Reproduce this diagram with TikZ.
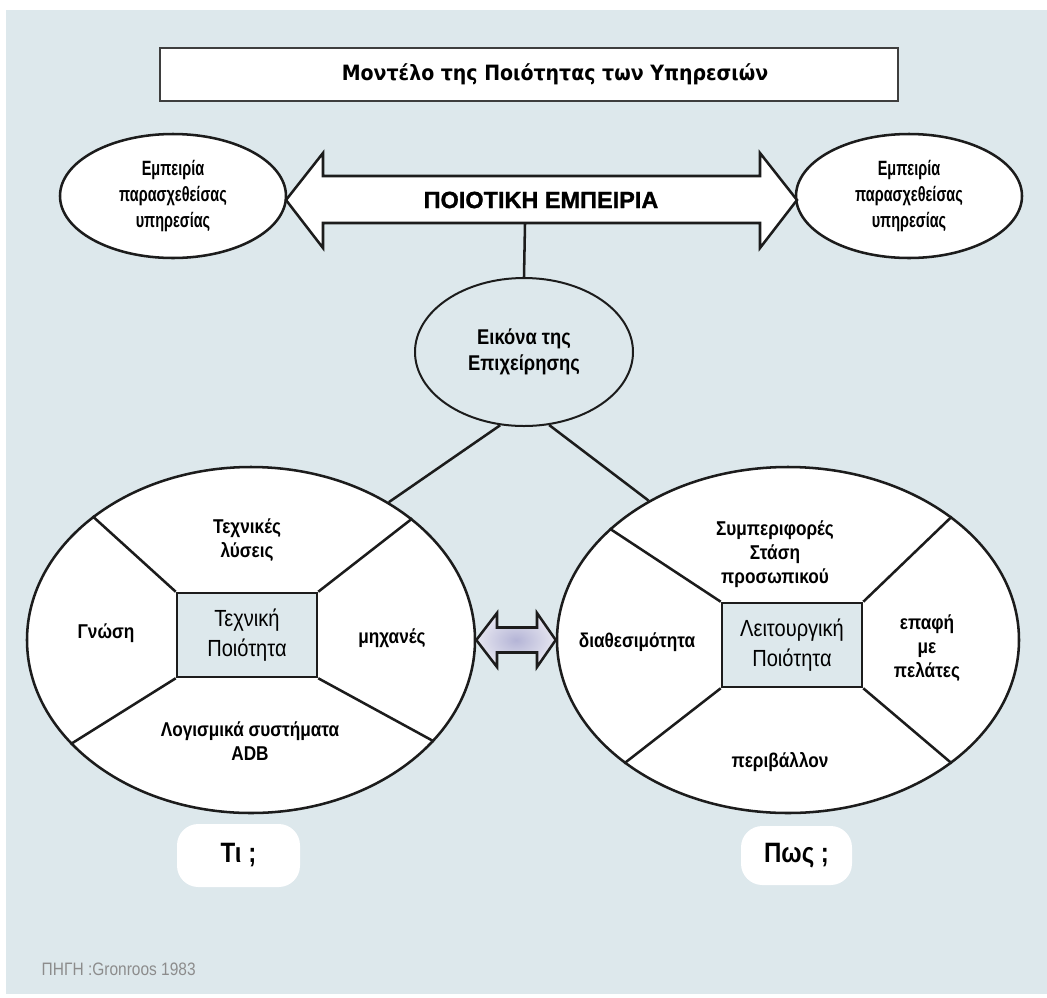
\documentclass[tikz,border=0pt]{standalone}
\usepackage{fontspec}
\setmainfont{Liberation Sans}
\newfontfamily\titlefont[FakeStretch=0.9]{DejaVu Sans}
\newfontfamily\condfont[FakeStretch=0.86]{Liberation Sans}
\newfontfamily\narrowfont[FakeStretch=0.7]{Liberation Sans}
\newfontfamily\heavyfont[FakeBold=1.2]{Liberation Sans Bold}
\usetikzlibrary{shapes.geometric}
\definecolor{bgblue}{HTML}{DDE8EC}
\definecolor{ink}{HTML}{1C1C1C}
\definecolor{lavdark}{HTML}{B4B4D6}
\definecolor{lavlight}{HTML}{E6E6F0}
\definecolor{srcgray}{HTML}{8C8C8C}

\begin{document}
\begin{tikzpicture}[x=0.75pt,y=-0.75pt,
  line/.style={draw=ink,line width=1.9pt},
  oval/.style={ellipse,line,fill=white,inner sep=0pt,align=center},
  exptext/.style={font=\narrowfont\bfseries\fontsize{15.5}{19.5}\selectfont},
  label/.style={align=center,font=\condfont\bfseries\fontsize{15}{18}\selectfont},
  core/.style={rectangle,line,fill=bgblue,minimum width=105pt,minimum height=63pt,
    inner sep=0pt,align=center,font=\condfont\fontsize{17.5}{23}\selectfont},
  ask/.style={rectangle,rounded corners=16pt,fill=white,inner sep=0pt,
    font=\condfont\bfseries\fontsize{21}{24}\selectfont}]
\fill[white] (0,0) rectangle (1047,997);
\useasboundingbox (0,0) rectangle (1047,997);
\fill[bgblue] (6,10) rectangle (1047,994);

\node[draw=ink!85,line width=1.1pt,fill=white,minimum width=553.5pt,minimum height=39.75pt] (titlebox) at (529,74.5) {};
\node[font=\titlefont\bfseries\fontsize{15.8}{18}\selectfont] (title) at (555,74.5)
  {Μοντέλο της Ποιότητας των Υπηρεσιών};

\node[oval,exptext,minimum width=169.5pt,minimum height=93pt] (expL) at (173,196)
  {Εμπειρία\\παρασχεθείσας\\υπηρεσίας};
\node[oval,exptext,minimum width=169.5pt,minimum height=93pt] (expR) at (909,196)
  {Εμπειρία\\παρασχεθείσας\\υπηρεσίας};

\draw[line,fill=white] (286,200) -- (323,153) -- (323,176) -- (760,176) -- (760,153)
  -- (797,200) -- (760,248) -- (760,223) -- (323,223) -- (323,248) -- cycle;
\node[font=\heavyfont\fontsize{17.6}{20}\selectfont] (qexp) at (541,200) {ΠΟΙΟΤΙΚΗ ΕΜΠΕΙΡΙΑ};
\coordinate (qbot) at (525,224);

\node[ellipse,draw=ink,line width=1.5pt,fill=bgblue,inner sep=0pt,minimum width=163.5pt,
  minimum height=111pt,align=center,font=\condfont\bfseries\fontsize{16}{20}\selectfont] (image) at (524,352)
  {Εικόνα της\\Επιχείρησης};
\draw[line] (qbot) -- (image.north);

\node[oval,minimum width=336pt,minimum height=259.5pt] (tech) at (251,640) {};
\node[oval,minimum width=346.5pt,minimum height=259.5pt] (func) at (788,640) {};
\draw[line] (image.252) -- (tech.45);
\draw[line] (image.289) -- (func.135);

\node[core] (techq) at (247,635) {Τεχνική\\Ποιότητα};
\draw[line] (techq.north west) -- (tech.142);
\draw[line] (techq.north east) -- (tech.37);
\draw[line] (techq.south west) -- (tech.210);
\draw[line] (techq.south east) -- (tech.331);
\node[label] (sol) at (247,540) {Τεχνικές\\λύσεις};
\node[label] (know) at (106,633) {Γνώση};
\node[label] (mach) at (392,638) {μηχανές};
\node[label] (soft) at (250,741) {Λογισμικά συστήματα\\ADB};

\node[core] (funcq) at (792,645) {Λειτουργική\\Ποιότητα};
\draw[line] (funcq.north west) -- (func.148.6);
\draw[line] (funcq.north east) -- (func.37);
\draw[line] (funcq.south west) -- (func.217);
\draw[line] (funcq.south east) -- (func.323.4);
\node[label] (att) at (775,554) {Συμπεριφορές\\Στάση\\προσωπικού};
\node[label] (avail) at (637,642) {διαθεσιμότητα};
\node[label] (cont) at (927,648) {επαφή\\με\\πελάτες};
\node[label] (env) at (780,762) {περιβάλλον};

\path[line,shading=radial,inner color=lavdark,outer color=lavlight]
  (tech.east) -- (497,613) -- (497,627.5) -- (537,627.5) -- (537,613) -- (func.west)
  -- (537,667) -- (537,652.5) -- (497,652.5) -- (497,667) -- cycle;

\node[ask,minimum width=92.25pt,minimum height=47.25pt] (what) at (238.5,855.5) {Τι ;};
\node[ask,minimum width=83.25pt,minimum height=44.25pt] (how) at (796.5,855.5) {Πως ;};

\node[anchor=west,text=srcgray,font=\condfont\fontsize{13.5}{16}\selectfont] (src) at (37,969)
  {ΠΗΓΗ :Gronroos 1983};
\end{tikzpicture}
\end{document}
